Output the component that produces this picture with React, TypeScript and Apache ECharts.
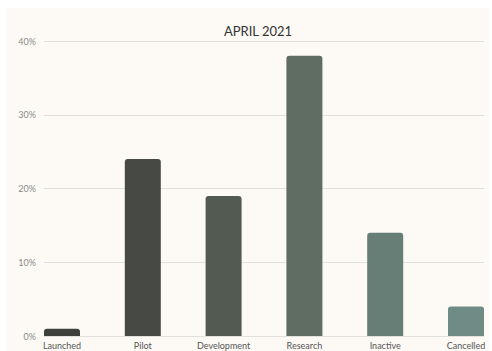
import React, { useEffect, useRef } from "react";
import * as echarts from "echarts";

const categories = ["Launched", "Pilot", "Development", "Research", "Inactive", "Cancelled"];
const values = [1, 24, 19, 38, 14, 4];
const barColors = ["#3e403b", "#474a44", "#535a52", "#5f6d63", "#677e76", "#6e8b85"];
const yTicks = [0, 10, 20, 30, 40];

export default function App() {
  const ref = useRef<HTMLDivElement>(null);
  useEffect(() => {
    const chart = echarts.init(ref.current!, undefined, { renderer: "svg" });
    const font = "Lato, 'Open Sans', sans-serif";
    chart.setOption({
      animation: false,
      backgroundColor: "#ffffff",
      graphic: [
        { type: "rect", z: -10, shape: { x: 6, y: 8, width: 483, height: 343 }, style: { fill: "#fdfaf5" } },
      ],
      title: {
        text: "APRIL 2021",
        left: 253,
        textAlign: "center",
        top: 19,
        textStyle: { fontFamily: font, fontSize: 13, fontWeight: "normal", color: "#333333" },
      },
      grid: [
        { left: 44, right: 8, top: 41, bottom: 15 },
        { left: 62, right: 26, top: 41, bottom: 15 },
      ],
      xAxis: [
        { type: "value", gridIndex: 0, show: false, min: 0, max: 1 },
        {
          type: "category",
          gridIndex: 1,
          data: categories,
          boundaryGap: false,
          axisLine: { show: false },
          axisTick: { show: false },
          axisLabel: { color: "#555555", fontSize: 9, fontFamily: font, margin: 5 },
        },
      ],
      yAxis: [
        {
          type: "value",
          gridIndex: 0,
          min: yTicks[0],
          max: yTicks[yTicks.length - 1],
          interval: 10,
          axisLine: { show: false },
          axisTick: { show: false },
          axisLabel: { color: "#8a8a8a", fontSize: 9, fontFamily: font, formatter: "{value}%", margin: 8 },
          splitLine: { lineStyle: { color: "#e2e0dc", width: 1 } },
        },
        { type: "value", gridIndex: 1, min: 0, max: 40, interval: 10, show: false, splitLine: { show: false } },
      ],
      series: [
        {
          type: "bar",
          xAxisIndex: 1,
          yAxisIndex: 1,
          barWidth: 36,
          data: values.map((v, i) => ({ value: v, itemStyle: { color: barColors[i] } })),
          itemStyle: { borderRadius: [3, 3, 0, 0] },
        },
      ],
    });
    return () => chart.dispose();
  }, []);
  return <div ref={ref} style={{ position: "absolute", left: 0, top: 0, width: 492, height: 351 }} />;
}
